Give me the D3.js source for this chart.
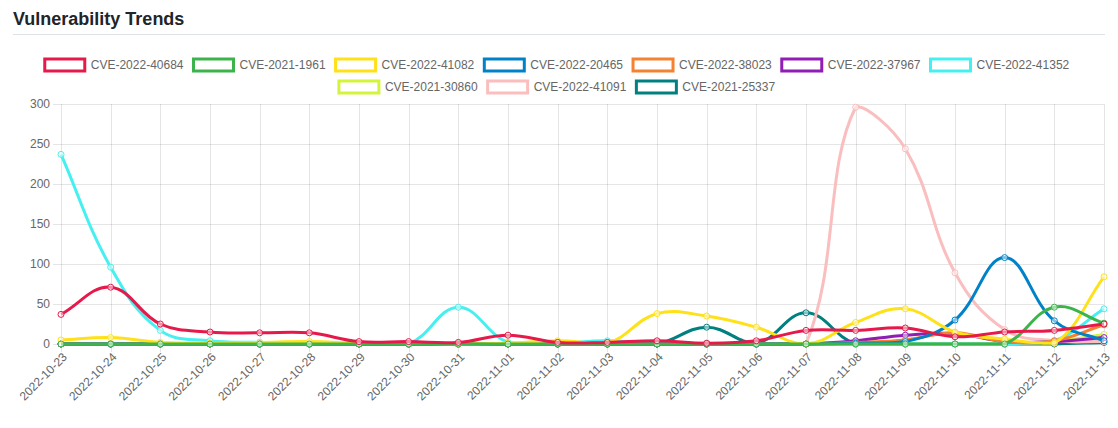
<!DOCTYPE html>
<html>
<head>
<meta charset="utf-8">
<script src="https://cdn.jsdelivr.net/npm/d3@7/dist/d3.min.js"></script>
<style>
  html, body { margin: 0; padding: 0; background: #fff; }
  svg { display: block; font-family: "Liberation Sans", Arial, Helvetica, sans-serif; }
</style>
</head>
<body>
<svg id="chart" width="1118" height="428"></svg>
<script>
const dates = ["2022-10-23","2022-10-24","2022-10-25","2022-10-26","2022-10-27","2022-10-28","2022-10-29","2022-10-30","2022-10-31","2022-11-01","2022-11-02","2022-11-03","2022-11-04","2022-11-05","2022-11-06","2022-11-07","2022-11-08","2022-11-09","2022-11-10","2022-11-11","2022-11-12","2022-11-13"];
const seriesNames = ["CVE-2022-40684","CVE-2021-1961","CVE-2022-41082","CVE-2022-20465","CVE-2022-38023","CVE-2022-37967","CVE-2022-41352","CVE-2021-30860","CVE-2022-41091","CVE-2021-25337"];
const seriesColors = ["#e6194b","#3cb44b","#ffe119","#0082c8","#f58231","#911eb4","#46f0f0","#d2f53c","#fabebe","#008080"];
const cve_2022_40684 = [37,71,25,15,14,14,3,3,2,11,2,2,4,1,4,17,17,20,9,15,17,25];
const cve_2021_1961  = [0,0,0,0,0,0,0,0,0,0,0,0,0,0,0,0,0,0,0,0,46,26];
const cve_2022_41082 = [5,8,2,1,2,3,1,1,0,1,4,1,38,35,21,0,27,44,15,6,1,84];
const cve_2022_20465 = [0,0,0,0,0,0,0,0,0,0,0,0,0,0,0,0,1,3,30,108,29,4];
const cve_2022_38023 = [0,0,0,0,0,0,0,0,0,0,0,0,0,0,0,0,2,5,14,3,4,24];
const cve_2022_37967 = [0,0,0,0,0,0,0,0,0,0,0,0,0,0,0,0,4,11,13,3,3,8];
const cve_2022_41352 = [237,96,17,4,2,1,0,0,46,2,1,4,0,0,0,0,0,0,0,0,4,44];
const cve_2021_30860 = [0,0,0,0,0,0,0,0,0,0,0,0,0,0,0,0,0,0,0,0,3,12];
const cve_2022_41091 = [0,0,0,0,0,0,0,0,0,0,0,0,0,0,0,0,296,244,89,18,4,3];
const cve_2021_25337 = [0,0,0,0,0,0,0,0,0,0,0,0,0,21,1,39,0,0,0,0,0,2];
const seriesValues = [cve_2022_40684,cve_2021_1961,cve_2022_41082,cve_2022_20465,cve_2022_38023,cve_2022_37967,cve_2022_41352,cve_2021_30860,cve_2022_41091,cve_2021_25337];
const yTicks = [0,50,100,150,200,250,300];
const titleText = "Vulnerability Trends";

const svg = d3.select("#chart");
const area = {left: 61, right: 1104, top: 104, bottom: 344};
const x = d3.scalePoint().domain(dates).range([area.left, area.right]);
const y = d3.scaleLinear().domain([0, 300]).range([area.bottom, area.top]);

// Title + rule
svg.append("text").attr("x", 13).attr("y", 25)
  .attr("font-size", 18).attr("font-weight", "bold").attr("fill", "#212529")
  .text(titleText);
svg.append("line").attr("x1", 13).attr("x2", 1105).attr("y1", 34.5).attr("y2", 34.5)
  .attr("stroke", "#dee2e6").attr("stroke-width", 1);

// Legend (Chart.js-like layout)
const legendG = svg.append("g");
const items = seriesNames.map((n, i) => {
  const g = legendG.append("g");
  const t = g.append("text").attr("font-size", 12).attr("fill", "#666").attr("dominant-baseline", "central").text(n);
  const w = t.node().getComputedTextLength();
  return {g, t, i, w: 40 + 6 + w};
});
const maxW = 1080, pad = 10;
const rows = [[]];
let cur = 0;
items.forEach(it => {
  const add = (rows[rows.length-1].length ? pad : 0) + it.w;
  if (cur + add > maxW && rows[rows.length-1].length) { rows.push([it]); cur = it.w; }
  else { rows[rows.length-1].push(it); cur += add; }
});
const cx = 557, row0 = 65, rowH = 22;
rows.forEach((row, r) => {
  const total = d3.sum(row, d => d.w) + pad * (row.length - 1);
  let xx = cx - total / 2;
  const cy = row0 + r * rowH;
  row.forEach(it => {
    it.g.insert("rect", "text").attr("x", xx).attr("y", cy - 6).attr("width", 40).attr("height", 12)
      .attr("fill", "#fff").attr("stroke", seriesColors[it.i]).attr("stroke-width", 3);
    it.t.attr("x", xx + 46).attr("y", cy);
    xx += it.w + pad;
  });
});

// Grid
const grid = svg.append("g");
grid.selectAll("line.h").data(yTicks).join("line")
  .attr("x1", area.left - 8).attr("x2", area.right)
  .attr("y1", d => Math.round(y(d)) + 0.5).attr("y2", d => Math.round(y(d)) + 0.5)
  .attr("stroke", "rgba(0,0,0,0.1)");
grid.selectAll("line.v").data(dates).join("line")
  .attr("x1", d => Math.round(x(d)) + 0.5).attr("x2", d => Math.round(x(d)) + 0.5)
  .attr("y1", area.top).attr("y2", area.bottom + 8)
  .attr("stroke", "rgba(0,0,0,0.1)");

// Y axis labels
svg.append("g").selectAll("text").data(yTicks).join("text")
  .attr("x", area.left - 11).attr("y", d => y(d))
  .attr("text-anchor", "end").attr("dominant-baseline", "central")
  .attr("font-size", 12).attr("fill", "#666").text(d => d);

// X axis labels
svg.append("g").selectAll("text").data(dates).join("text")
  .attr("transform", d => `translate(${x(d) + 4},${area.bottom + 11}) rotate(-45)`)
  .attr("text-anchor", "end").attr("dominant-baseline", "central")
  .attr("font-size", 12).attr("fill", "#666").text(d => d);

// Chart.js-like spline
function splinePath(pts, t) {
  const cps = pts.map((p, i) => {
    const prev = pts[i - 1] || p, next = pts[i + 1] || p;
    const d01 = Math.hypot(p[0] - prev[0], p[1] - prev[1]);
    const d12 = Math.hypot(next[0] - p[0], next[1] - p[1]);
    let s01 = d01 / (d01 + d12), s12 = d12 / (d01 + d12);
    if (!isFinite(s01)) s01 = 0; if (!isFinite(s12)) s12 = 0;
    const fa = t * s01, fb = t * s12;
    const cap = (q) => [Math.max(area.left, Math.min(area.right, q[0])), Math.max(area.top, Math.min(area.bottom, q[1]))];
    return {
      prev: cap([p[0] - fa * (next[0] - prev[0]), p[1] - fa * (next[1] - prev[1])]),
      next: cap([p[0] + fb * (next[0] - prev[0]), p[1] + fb * (next[1] - prev[1])])
    };
  });
  const path = d3.path();
  path.moveTo(pts[0][0], pts[0][1]);
  for (let i = 1; i < pts.length; i++) {
    path.bezierCurveTo(cps[i-1].next[0], cps[i-1].next[1], cps[i].prev[0], cps[i].prev[1], pts[i][0], pts[i][1]);
  }
  return path.toString();
}

const plot = svg.append("g");
for (let s = seriesValues.length - 1; s >= 0; s--) {
  const vals = seriesValues[s];
  const pts = vals.map((v, i) => [x(dates[i]), y(v)]);
  const g = plot.append("g");
  g.append("path").attr("d", splinePath(pts, 0.4)).attr("fill", "none")
    .attr("stroke", seriesColors[s]).attr("stroke-width", 3);
  g.selectAll("circle").data(vals).join("circle")
    .attr("cx", (v, i) => x(dates[i])).attr("cy", v => y(v)).attr("r", 3)
    .attr("fill", "rgba(255,255,255,0.5)").attr("stroke", seriesColors[s]).attr("stroke-width", 1);
}
</script>
</body>
</html>
